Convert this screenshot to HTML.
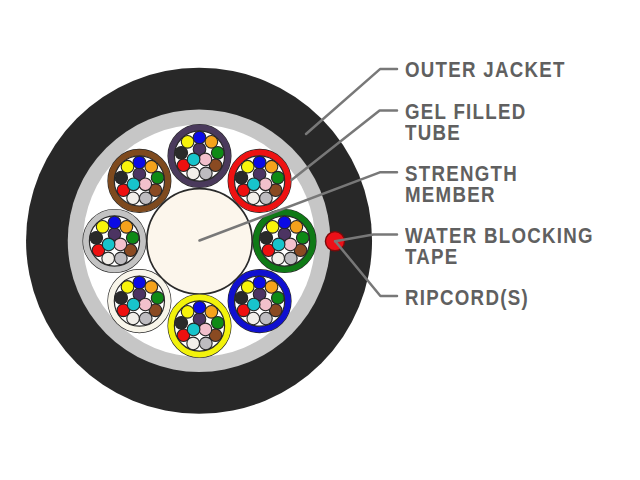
<!DOCTYPE html>
<html><head><meta charset="utf-8"><style>
html,body{margin:0;padding:0;background:#fff;width:640px;height:480px;overflow:hidden;}
svg{position:absolute;left:0;top:0;}
.lab{position:absolute;left:405px;font-family:"Liberation Sans",sans-serif;font-weight:bold;font-size:22px;line-height:20.7px;letter-spacing:1.5px;transform:scaleX(0.85);transform-origin:0 0;color:#606060;white-space:nowrap;}
</style></head><body>
<svg width="640" height="480" viewBox="0 0 640 480"><circle cx="199.05" cy="240.8" r="173" fill="#282828"/><circle cx="199.05" cy="240.8" r="131.3" fill="#c6c6c6"/><circle cx="199.05" cy="240.8" r="116" fill="#ffffff"/><circle cx="199.5" cy="241.4" r="52.7" fill="#fcf6ec" stroke="#2a2a2a" stroke-width="1.7"/><g><circle cx="199.50" cy="156.00" r="31.40" fill="#ffffff" stroke="#2a2a2a" stroke-width="1.3"/><circle cx="199.50" cy="156.00" r="28.25" fill="none" stroke="#4a3a5c" stroke-width="6.3"/><circle cx="199.50" cy="156.00" r="25.10" fill="none" stroke="#2a2a2a" stroke-width="1.2"/><circle cx="199.50" cy="149.20" r="6.30" fill="#4c3462" stroke="#262626" stroke-width="1.1"/><circle cx="199.50" cy="137.50" r="6.30" fill="#0a0ae6" stroke="#262626" stroke-width="1.1"/><circle cx="211.39" cy="141.83" r="6.30" fill="#f4a21c" stroke="#262626" stroke-width="1.1"/><circle cx="217.72" cy="152.79" r="6.30" fill="#0e8a16" stroke="#262626" stroke-width="1.1"/><circle cx="215.52" cy="165.25" r="6.30" fill="#8a4a22" stroke="#262626" stroke-width="1.1"/><circle cx="205.83" cy="173.38" r="6.30" fill="#bebcc0" stroke="#262626" stroke-width="1.1"/><circle cx="193.17" cy="173.38" r="6.30" fill="#f2efea" stroke="#262626" stroke-width="1.1"/><circle cx="183.48" cy="165.25" r="6.30" fill="#ee1010" stroke="#262626" stroke-width="1.1"/><circle cx="181.28" cy="152.79" r="6.30" fill="#2a2a2a" stroke="#262626" stroke-width="1.1"/><circle cx="187.61" cy="141.83" r="6.30" fill="#f8f40a" stroke="#262626" stroke-width="1.1"/><circle cx="205.39" cy="159.40" r="6.30" fill="#f2c0cc" stroke="#262626" stroke-width="1.1"/><circle cx="193.61" cy="159.40" r="6.30" fill="#18c4cc" stroke="#262626" stroke-width="1.1"/></g><g><circle cx="259.60" cy="180.90" r="31.40" fill="#ffffff" stroke="#2a2a2a" stroke-width="1.3"/><circle cx="259.60" cy="180.90" r="28.25" fill="none" stroke="#ee1212" stroke-width="6.3"/><circle cx="259.60" cy="180.90" r="25.10" fill="none" stroke="#2a2a2a" stroke-width="1.2"/><circle cx="259.60" cy="174.10" r="6.30" fill="#4c3462" stroke="#262626" stroke-width="1.1"/><circle cx="259.60" cy="162.40" r="6.30" fill="#0a0ae6" stroke="#262626" stroke-width="1.1"/><circle cx="271.50" cy="166.72" r="6.30" fill="#f4a21c" stroke="#262626" stroke-width="1.1"/><circle cx="277.82" cy="177.68" r="6.30" fill="#0e8a16" stroke="#262626" stroke-width="1.1"/><circle cx="275.63" cy="190.15" r="6.30" fill="#8a4a22" stroke="#262626" stroke-width="1.1"/><circle cx="265.93" cy="198.28" r="6.30" fill="#bebcc0" stroke="#262626" stroke-width="1.1"/><circle cx="253.28" cy="198.28" r="6.30" fill="#f2efea" stroke="#262626" stroke-width="1.1"/><circle cx="243.58" cy="190.15" r="6.30" fill="#ee1010" stroke="#262626" stroke-width="1.1"/><circle cx="241.39" cy="177.68" r="6.30" fill="#2a2a2a" stroke="#262626" stroke-width="1.1"/><circle cx="247.71" cy="166.72" r="6.30" fill="#f8f40a" stroke="#262626" stroke-width="1.1"/><circle cx="265.49" cy="184.30" r="6.30" fill="#f2c0cc" stroke="#262626" stroke-width="1.1"/><circle cx="253.72" cy="184.30" r="6.30" fill="#18c4cc" stroke="#262626" stroke-width="1.1"/></g><g><circle cx="284.50" cy="241.00" r="31.40" fill="#ffffff" stroke="#2a2a2a" stroke-width="1.3"/><circle cx="284.50" cy="241.00" r="28.25" fill="none" stroke="#0f7a16" stroke-width="6.3"/><circle cx="284.50" cy="241.00" r="25.10" fill="none" stroke="#2a2a2a" stroke-width="1.2"/><circle cx="284.50" cy="234.20" r="6.30" fill="#4c3462" stroke="#262626" stroke-width="1.1"/><circle cx="284.50" cy="222.50" r="6.30" fill="#0a0ae6" stroke="#262626" stroke-width="1.1"/><circle cx="296.39" cy="226.83" r="6.30" fill="#f4a21c" stroke="#262626" stroke-width="1.1"/><circle cx="302.72" cy="237.79" r="6.30" fill="#0e8a16" stroke="#262626" stroke-width="1.1"/><circle cx="300.52" cy="250.25" r="6.30" fill="#8a4a22" stroke="#262626" stroke-width="1.1"/><circle cx="290.83" cy="258.38" r="6.30" fill="#bebcc0" stroke="#262626" stroke-width="1.1"/><circle cx="278.17" cy="258.38" r="6.30" fill="#f2efea" stroke="#262626" stroke-width="1.1"/><circle cx="268.48" cy="250.25" r="6.30" fill="#ee1010" stroke="#262626" stroke-width="1.1"/><circle cx="266.28" cy="237.79" r="6.30" fill="#2a2a2a" stroke="#262626" stroke-width="1.1"/><circle cx="272.61" cy="226.83" r="6.30" fill="#f8f40a" stroke="#262626" stroke-width="1.1"/><circle cx="290.39" cy="244.40" r="6.30" fill="#f2c0cc" stroke="#262626" stroke-width="1.1"/><circle cx="278.61" cy="244.40" r="6.30" fill="#18c4cc" stroke="#262626" stroke-width="1.1"/></g><g><circle cx="259.60" cy="301.10" r="31.40" fill="#ffffff" stroke="#2a2a2a" stroke-width="1.3"/><circle cx="259.60" cy="301.10" r="28.25" fill="none" stroke="#1010d0" stroke-width="6.3"/><circle cx="259.60" cy="301.10" r="25.10" fill="none" stroke="#2a2a2a" stroke-width="1.2"/><circle cx="259.60" cy="294.30" r="6.30" fill="#4c3462" stroke="#262626" stroke-width="1.1"/><circle cx="259.60" cy="282.60" r="6.30" fill="#0a0ae6" stroke="#262626" stroke-width="1.1"/><circle cx="271.50" cy="286.93" r="6.30" fill="#f4a21c" stroke="#262626" stroke-width="1.1"/><circle cx="277.82" cy="297.89" r="6.30" fill="#0e8a16" stroke="#262626" stroke-width="1.1"/><circle cx="275.63" cy="310.35" r="6.30" fill="#8a4a22" stroke="#262626" stroke-width="1.1"/><circle cx="265.93" cy="318.49" r="6.30" fill="#bebcc0" stroke="#262626" stroke-width="1.1"/><circle cx="253.28" cy="318.49" r="6.30" fill="#f2efea" stroke="#262626" stroke-width="1.1"/><circle cx="243.58" cy="310.35" r="6.30" fill="#ee1010" stroke="#262626" stroke-width="1.1"/><circle cx="241.39" cy="297.89" r="6.30" fill="#2a2a2a" stroke="#262626" stroke-width="1.1"/><circle cx="247.71" cy="286.93" r="6.30" fill="#f8f40a" stroke="#262626" stroke-width="1.1"/><circle cx="265.49" cy="304.50" r="6.30" fill="#f2c0cc" stroke="#262626" stroke-width="1.1"/><circle cx="253.72" cy="304.50" r="6.30" fill="#18c4cc" stroke="#262626" stroke-width="1.1"/></g><g><circle cx="199.50" cy="326.00" r="31.40" fill="#ffffff" stroke="#2a2a2a" stroke-width="1.3"/><circle cx="199.50" cy="326.00" r="28.25" fill="none" stroke="#f2f20c" stroke-width="6.3"/><circle cx="199.50" cy="326.00" r="25.10" fill="none" stroke="#2a2a2a" stroke-width="1.2"/><circle cx="199.50" cy="319.20" r="6.30" fill="#4c3462" stroke="#262626" stroke-width="1.1"/><circle cx="199.50" cy="307.50" r="6.30" fill="#0a0ae6" stroke="#262626" stroke-width="1.1"/><circle cx="211.39" cy="311.83" r="6.30" fill="#f4a21c" stroke="#262626" stroke-width="1.1"/><circle cx="217.72" cy="322.79" r="6.30" fill="#0e8a16" stroke="#262626" stroke-width="1.1"/><circle cx="215.52" cy="335.25" r="6.30" fill="#8a4a22" stroke="#262626" stroke-width="1.1"/><circle cx="205.83" cy="343.38" r="6.30" fill="#bebcc0" stroke="#262626" stroke-width="1.1"/><circle cx="193.17" cy="343.38" r="6.30" fill="#f2efea" stroke="#262626" stroke-width="1.1"/><circle cx="183.48" cy="335.25" r="6.30" fill="#ee1010" stroke="#262626" stroke-width="1.1"/><circle cx="181.28" cy="322.79" r="6.30" fill="#2a2a2a" stroke="#262626" stroke-width="1.1"/><circle cx="187.61" cy="311.83" r="6.30" fill="#f8f40a" stroke="#262626" stroke-width="1.1"/><circle cx="205.39" cy="329.40" r="6.30" fill="#f2c0cc" stroke="#262626" stroke-width="1.1"/><circle cx="193.61" cy="329.40" r="6.30" fill="#18c4cc" stroke="#262626" stroke-width="1.1"/></g><g><circle cx="139.40" cy="301.10" r="31.40" fill="#ffffff" stroke="#2a2a2a" stroke-width="1.3"/><circle cx="139.40" cy="301.10" r="28.25" fill="none" stroke="#f8f5ea" stroke-width="6.3"/><circle cx="139.40" cy="301.10" r="25.10" fill="none" stroke="#2a2a2a" stroke-width="1.2"/><circle cx="139.40" cy="294.30" r="6.30" fill="#4c3462" stroke="#262626" stroke-width="1.1"/><circle cx="139.40" cy="282.60" r="6.30" fill="#0a0ae6" stroke="#262626" stroke-width="1.1"/><circle cx="151.29" cy="286.93" r="6.30" fill="#f4a21c" stroke="#262626" stroke-width="1.1"/><circle cx="157.61" cy="297.89" r="6.30" fill="#0e8a16" stroke="#262626" stroke-width="1.1"/><circle cx="155.42" cy="310.35" r="6.30" fill="#8a4a22" stroke="#262626" stroke-width="1.1"/><circle cx="145.72" cy="318.49" r="6.30" fill="#bebcc0" stroke="#262626" stroke-width="1.1"/><circle cx="133.07" cy="318.49" r="6.30" fill="#f2efea" stroke="#262626" stroke-width="1.1"/><circle cx="123.37" cy="310.35" r="6.30" fill="#ee1010" stroke="#262626" stroke-width="1.1"/><circle cx="121.18" cy="297.89" r="6.30" fill="#2a2a2a" stroke="#262626" stroke-width="1.1"/><circle cx="127.50" cy="286.93" r="6.30" fill="#f8f40a" stroke="#262626" stroke-width="1.1"/><circle cx="145.28" cy="304.50" r="6.30" fill="#f2c0cc" stroke="#262626" stroke-width="1.1"/><circle cx="133.51" cy="304.50" r="6.30" fill="#18c4cc" stroke="#262626" stroke-width="1.1"/></g><g><circle cx="114.50" cy="241.00" r="31.40" fill="#ffffff" stroke="#2a2a2a" stroke-width="1.3"/><circle cx="114.50" cy="241.00" r="28.25" fill="none" stroke="#c3c3c3" stroke-width="6.3"/><circle cx="114.50" cy="241.00" r="25.10" fill="none" stroke="#2a2a2a" stroke-width="1.2"/><circle cx="114.50" cy="234.20" r="6.30" fill="#4c3462" stroke="#262626" stroke-width="1.1"/><circle cx="114.50" cy="222.50" r="6.30" fill="#0a0ae6" stroke="#262626" stroke-width="1.1"/><circle cx="126.39" cy="226.83" r="6.30" fill="#f4a21c" stroke="#262626" stroke-width="1.1"/><circle cx="132.72" cy="237.79" r="6.30" fill="#0e8a16" stroke="#262626" stroke-width="1.1"/><circle cx="130.52" cy="250.25" r="6.30" fill="#8a4a22" stroke="#262626" stroke-width="1.1"/><circle cx="120.83" cy="258.38" r="6.30" fill="#bebcc0" stroke="#262626" stroke-width="1.1"/><circle cx="108.17" cy="258.38" r="6.30" fill="#f2efea" stroke="#262626" stroke-width="1.1"/><circle cx="98.48" cy="250.25" r="6.30" fill="#ee1010" stroke="#262626" stroke-width="1.1"/><circle cx="96.28" cy="237.79" r="6.30" fill="#2a2a2a" stroke="#262626" stroke-width="1.1"/><circle cx="102.61" cy="226.83" r="6.30" fill="#f8f40a" stroke="#262626" stroke-width="1.1"/><circle cx="120.39" cy="244.40" r="6.30" fill="#f2c0cc" stroke="#262626" stroke-width="1.1"/><circle cx="108.61" cy="244.40" r="6.30" fill="#18c4cc" stroke="#262626" stroke-width="1.1"/></g><g><circle cx="139.40" cy="180.90" r="31.40" fill="#ffffff" stroke="#2a2a2a" stroke-width="1.3"/><circle cx="139.40" cy="180.90" r="28.25" fill="none" stroke="#7e4a1e" stroke-width="6.3"/><circle cx="139.40" cy="180.90" r="25.10" fill="none" stroke="#2a2a2a" stroke-width="1.2"/><circle cx="139.40" cy="174.10" r="6.30" fill="#4c3462" stroke="#262626" stroke-width="1.1"/><circle cx="139.40" cy="162.40" r="6.30" fill="#0a0ae6" stroke="#262626" stroke-width="1.1"/><circle cx="151.29" cy="166.72" r="6.30" fill="#f4a21c" stroke="#262626" stroke-width="1.1"/><circle cx="157.61" cy="177.68" r="6.30" fill="#0e8a16" stroke="#262626" stroke-width="1.1"/><circle cx="155.42" cy="190.15" r="6.30" fill="#8a4a22" stroke="#262626" stroke-width="1.1"/><circle cx="145.72" cy="198.28" r="6.30" fill="#bebcc0" stroke="#262626" stroke-width="1.1"/><circle cx="133.07" cy="198.28" r="6.30" fill="#f2efea" stroke="#262626" stroke-width="1.1"/><circle cx="123.37" cy="190.15" r="6.30" fill="#ee1010" stroke="#262626" stroke-width="1.1"/><circle cx="121.18" cy="177.68" r="6.30" fill="#2a2a2a" stroke="#262626" stroke-width="1.1"/><circle cx="127.50" cy="166.72" r="6.30" fill="#f8f40a" stroke="#262626" stroke-width="1.1"/><circle cx="145.28" cy="184.30" r="6.30" fill="#f2c0cc" stroke="#262626" stroke-width="1.1"/><circle cx="133.51" cy="184.30" r="6.30" fill="#18c4cc" stroke="#262626" stroke-width="1.1"/></g><circle cx="335" cy="241.2" r="9.6" fill="#ec1018" stroke="#7a0a0a" stroke-width="1.4"/><path d="M397,69.1 L380,69.1 L306,134" fill="none" stroke="#787878" stroke-width="2.5" stroke-linejoin="round" stroke-linecap="round"/><path d="M397,110.4 L379.6,110.4 L291.5,180" fill="none" stroke="#787878" stroke-width="2.5" stroke-linejoin="round" stroke-linecap="round"/><path d="M397,172.3 L379.8,172.3 L199.5,240.5" fill="none" stroke="#787878" stroke-width="2.5" stroke-linejoin="round" stroke-linecap="round"/><path d="M397,234.6 L373.5,234.6 L335,241.2" fill="none" stroke="#787878" stroke-width="2.5" stroke-linejoin="round" stroke-linecap="round"/><path d="M397,296 L380.4,296 L335.3,241.2" fill="none" stroke="#787878" stroke-width="2.5" stroke-linejoin="round" stroke-linecap="round"/></svg>
<div class="lab" style="top:60.1px">OUTER JACKET</div><div class="lab" style="top:101.9px">GEL FILLED<br>TUBE</div><div class="lab" style="top:163.9px">STRENGTH<br>MEMBER</div><div class="lab" style="top:225.9px">WATER BLOCKING<br>TAPE</div><div class="lab" style="top:288.2px">RIPCORD(S)</div>
</body></html>
